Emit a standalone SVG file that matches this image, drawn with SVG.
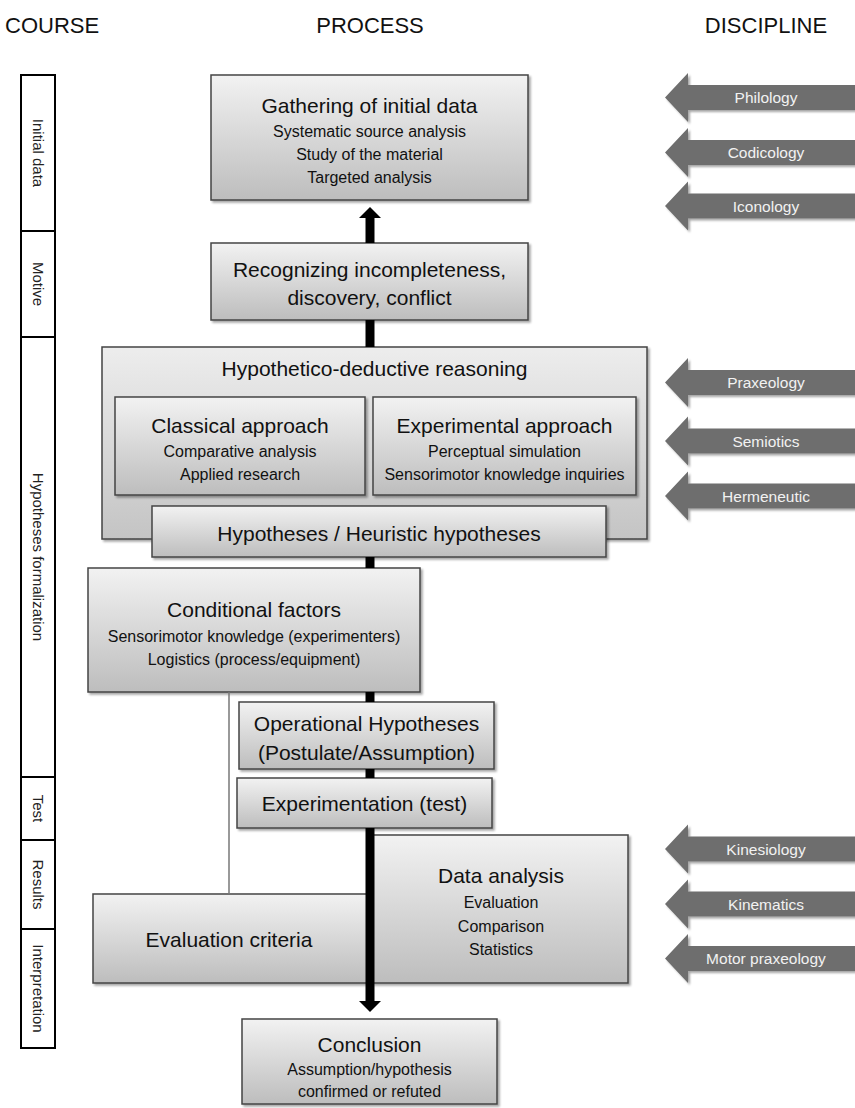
<svg xmlns="http://www.w3.org/2000/svg" width="855" height="1108" viewBox="0 0 855 1108">
<defs>
<linearGradient id="g" x1="0" y1="0" x2="0" y2="1">
<stop offset="0" stop-color="#f2f2f2"/>
<stop offset="1" stop-color="#bdbdbd"/>
</linearGradient>
<linearGradient id="g2" x1="0" y1="0" x2="0" y2="1">
<stop offset="0" stop-color="#ededed"/>
<stop offset="1" stop-color="#c4c4c4"/>
</linearGradient>
<filter id="sh" x="-5%" y="-5%" width="115%" height="120%">
<feDropShadow dx="2" dy="2" stdDeviation="1.2" flood-color="#000" flood-opacity="0.35"/>
</filter>
<path id="darr" d="M0,0 L23,-24.5 L23,-12.5 L200,-12.5 L200,12.5 L23,12.5 L23,24.5 Z"/>
</defs>
<style>
.hdr{font-family:"Liberation Sans",Arial,sans-serif;font-size:22px;fill:#111}
.box{fill:url(#g);stroke:#444;stroke-width:1.5;filter:url(#sh)}
.big{fill:url(#g2);stroke:#444;stroke-width:1.5;filter:url(#sh)}
.t{font-family:"Liberation Sans",Arial,sans-serif;font-size:21px;fill:#111;text-anchor:middle}
.s{font-family:"Liberation Sans",Arial,sans-serif;font-size:16px;fill:#111;text-anchor:middle}
.crs{fill:#fff;stroke:#000;stroke-width:2}
.ct{font-family:"Liberation Sans",Arial,sans-serif;font-size:15px;fill:#222;text-anchor:middle}
.da{fill:#6e6e6e;filter:url(#sh)}
.dt{font-family:"Liberation Sans",Arial,sans-serif;font-size:15.5px;fill:#f2f2f2;text-anchor:middle}
.ln{stroke:#000;stroke-width:9;fill:none}
.ah{fill:#000}
</style>
<rect width="855" height="1108" fill="#fff"/>
<g id="headers">
<text class="hdr" x="5" y="33">COURSE</text>
<text class="hdr" x="370" y="33" text-anchor="middle">PROCESS</text>
<text class="hdr" x="766" y="33" text-anchor="middle">DISCIPLINE</text>
</g>
<g id="course">
<g id="c-initial"><rect class="crs" x="21" y="75" width="34" height="156"/><text class="ct" transform="translate(33,153) rotate(90)">Initial data</text></g>
<g id="c-motive"><rect class="crs" x="21" y="231" width="34" height="106"/><text class="ct" transform="translate(33,284) rotate(90)">Motive</text></g>
<g id="c-hyp"><rect class="crs" x="21" y="337" width="34" height="440"/><text class="ct" transform="translate(33,557) rotate(90)">Hypotheses formalization</text></g>
<g id="c-test"><rect class="crs" x="21" y="777" width="34" height="63"/><text class="ct" transform="translate(33,808.5) rotate(90)">Test</text></g>
<g id="c-results"><rect class="crs" x="21" y="840" width="34" height="89"/><text class="ct" transform="translate(33,884.5) rotate(90)">Results</text></g>
<g id="c-interp"><rect class="crs" x="21" y="929" width="34" height="119"/><text class="ct" transform="translate(33,988.5) rotate(90)">Interpretation</text></g>
</g>
<g id="gathering">
<rect class="box" x="211" y="75" width="317" height="125"/>
<text class="t" x="369.5" y="113">Gathering of initial data</text>
<text class="s" x="369.5" y="137">Systematic source analysis</text>
<text class="s" x="369.5" y="160">Study of the material</text>
<text class="s" x="369.5" y="183">Targeted analysis</text>
</g>
<g id="recognizing">
<rect class="box" x="211" y="243" width="317" height="77"/>
<text class="t" x="369.5" y="277">Recognizing incompleteness,</text>
<text class="t" x="369.5" y="305">discovery, conflict</text>
</g>
<g id="hypothetico">
<rect class="big" x="102" y="347" width="545" height="192"/>
<text class="t" x="374.5" y="376">Hypothetico-deductive reasoning</text>
</g>
<g id="classical">
<rect class="box" x="115" y="397" width="250" height="98"/>
<text class="t" x="240" y="433">Classical approach</text>
<text class="s" x="240" y="457">Comparative analysis</text>
<text class="s" x="240" y="480">Applied research</text>
</g>
<g id="experimental">
<rect class="box" x="373" y="397" width="263" height="98"/>
<text class="t" x="504.5" y="433">Experimental approach</text>
<text class="s" x="504.5" y="457">Perceptual simulation</text>
<text class="s" x="504.5" y="480">Sensorimotor knowledge inquiries</text>
</g>
<g id="hypotheses">
<rect class="box" x="152" y="506" width="454" height="51"/>
<text class="t" x="379" y="541">Hypotheses / Heuristic hypotheses</text>
</g>
<g id="conditional">
<rect class="box" x="88" y="568" width="332" height="124"/>
<text class="t" x="254" y="617">Conditional factors</text>
<text class="s" x="254" y="642">Sensorimotor knowledge (experimenters)</text>
<text class="s" x="254" y="665">Logistics (process/equipment)</text>
</g>
<g id="operational">
<rect class="box" x="239" y="702" width="255" height="67"/>
<text class="t" x="366.5" y="731">Operational Hypotheses</text>
<text class="t" x="366.5" y="760">(Postulate/Assumption)</text>
</g>
<g id="experimentation">
<rect class="box" x="237" y="778" width="255" height="50"/>
<text class="t" x="364.5" y="811">Experimentation (test)</text>
</g>
<g id="data-analysis">
<rect class="box" x="372" y="835" width="256" height="148"/>
<text class="t" x="501" y="883">Data analysis</text>
<text class="s" x="501" y="908">Evaluation</text>
<text class="s" x="501" y="932">Comparison</text>
<text class="s" x="501" y="955">Statistics</text>
</g>
<g id="evaluation">
<rect class="box" x="93" y="894" width="275" height="89"/>
<text class="t" x="229" y="947">Evaluation criteria</text>
</g>
<g id="conclusion">
<rect class="box" x="242" y="1019" width="255" height="85"/>
<text class="t" x="369.5" y="1052">Conclusion</text>
<text class="s" x="369.5" y="1075">Assumption/hypothesis</text>
<text class="s" x="369.5" y="1097">confirmed or refuted</text>
</g>
<g id="connectors">
<line class="ln" x1="370" y1="243" x2="370" y2="216"/>
<polygon class="ah" points="370,207 381,218 359,218"/>
<line class="ln" x1="370" y1="320" x2="370" y2="347"/>
<line class="ln" x1="370" y1="557" x2="370" y2="568"/>
<line class="ln" x1="370" y1="692" x2="370" y2="702"/>
<line class="ln" x1="370" y1="769" x2="370" y2="778"/>
<line class="ln" x1="370" y1="828" x2="370" y2="1004"/>
<polygon class="ah" points="359,1001 381,1001 370,1012"/>
<line x1="229" y1="692" x2="229" y2="894" stroke="#777" stroke-width="1.5"/>
</g>
<g id="disciplines">
<g id="d-philology"><use href="#darr" class="da" x="665" y="97.5"/><text class="dt" x="766" y="103">Philology</text></g>
<g id="d-codicology"><use href="#darr" class="da" x="665" y="152.5"/><text class="dt" x="766" y="158">Codicology</text></g>
<g id="d-iconology"><use href="#darr" class="da" x="665" y="206"/><text class="dt" x="766" y="211.5">Iconology</text></g>
<g id="d-praxeology"><use href="#darr" class="da" x="665" y="382.5"/><text class="dt" x="766" y="388">Praxeology</text></g>
<g id="d-semiotics"><use href="#darr" class="da" x="665" y="441"/><text class="dt" x="766" y="446.5">Semiotics</text></g>
<g id="d-hermeneutic"><use href="#darr" class="da" x="665" y="496"/><text class="dt" x="766" y="501.5">Hermeneutic</text></g>
<g id="d-kinesiology"><use href="#darr" class="da" x="665" y="849"/><text class="dt" x="766" y="854.5">Kinesiology</text></g>
<g id="d-kinematics"><use href="#darr" class="da" x="665" y="904"/><text class="dt" x="766" y="909.5">Kinematics</text></g>
<g id="d-motor"><use href="#darr" class="da" x="665" y="958.5"/><text class="dt" x="766" y="964">Motor praxeology</text></g>
</g>
</svg>
